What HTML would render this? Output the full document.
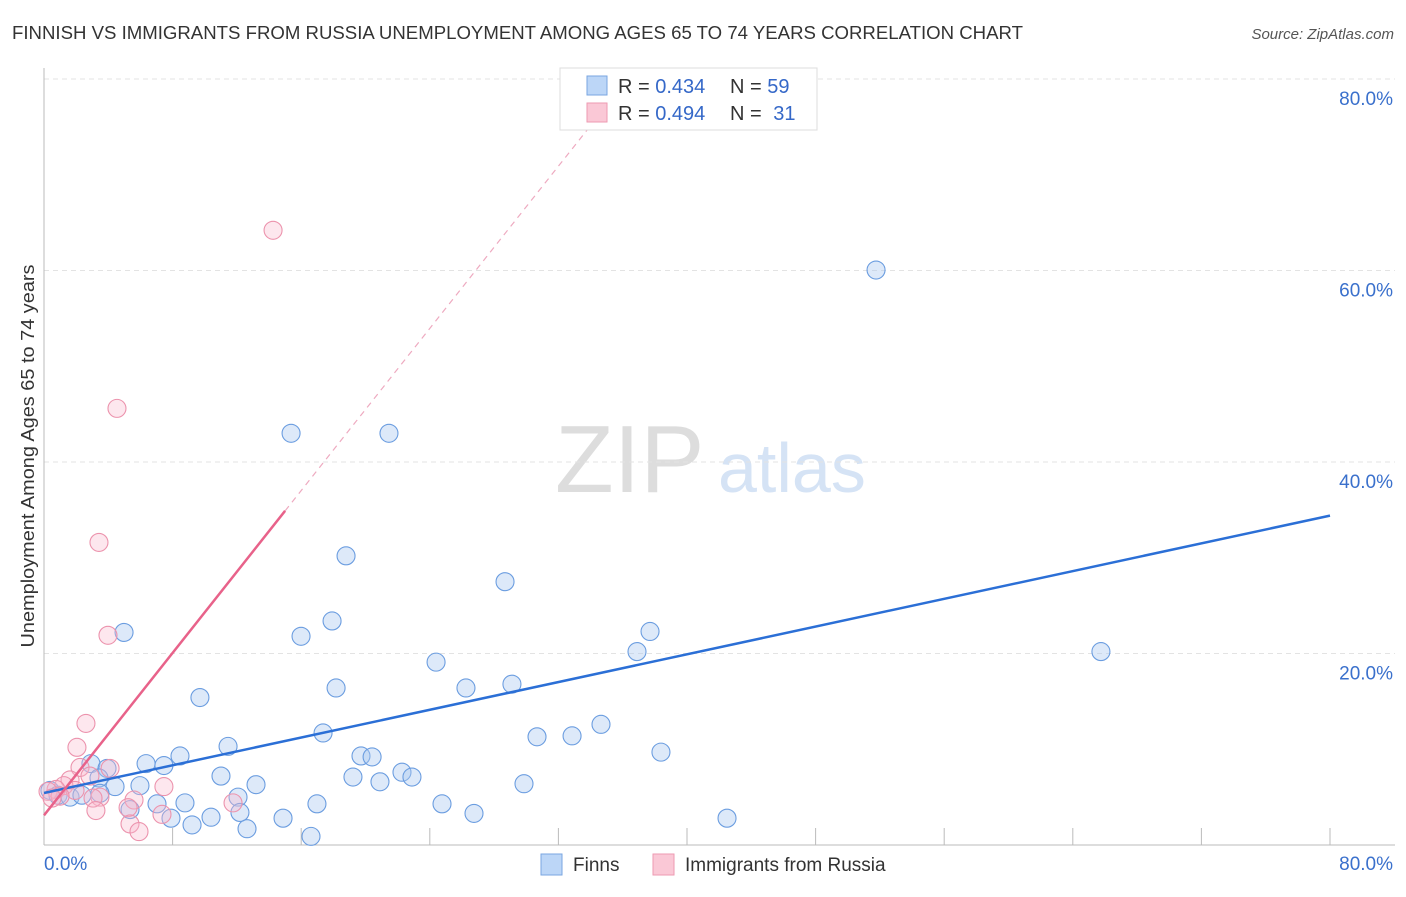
<!DOCTYPE html>
<html><head><meta charset="utf-8"><style>
body{margin:0;background:#fff;font-family:"Liberation Sans",sans-serif}
svg text{font-family:"Liberation Sans",sans-serif}
</style></head><body>
<svg id="c" width="1406" height="892">
<text x="12" y="39" font-size="18" fill="#333" textLength="1011" lengthAdjust="spacingAndGlyphs">FINNISH VS IMMIGRANTS FROM RUSSIA UNEMPLOYMENT AMONG AGES 65 TO 74 YEARS CORRELATION CHART</text>
<text x="1394" y="39" font-size="15" fill="#555" font-style="italic" text-anchor="end">Source: ZipAtlas.com</text>
<text x="555" y="492" font-size="96" fill="#ddd" font-family="Liberation Serif">ZIP</text>
<text x="718" y="492" font-size="70" fill="#d5e3f5">atlas</text>
<text transform="translate(34,456) rotate(-90)" font-size="18" fill="#333" text-anchor="middle" textLength="383" lengthAdjust="spacingAndGlyphs">Unemployment Among Ages 65 to 74 years</text>
<g id="grid"></g><g id="pts"></g><g id="lines"></g>
<g>
<rect x="560" y="68" width="257" height="62" fill="#fff" stroke="#ddd"/>
<rect x="587" y="76" width="20" height="19" fill="#bcd6f7" stroke="#7aa6e0"/>
<rect x="587" y="103" width="20" height="19" fill="#fac8d6" stroke="#ee9ab2"/>
<text x="618" y="93" font-size="20" fill="#333">R = <tspan fill="#3568c8">0.434</tspan></text>
<text x="730" y="93" font-size="20" fill="#333">N = <tspan fill="#3568c8">59</tspan></text>
<text x="618" y="120" font-size="20" fill="#333">R = <tspan fill="#3568c8">0.494</tspan></text>
<text x="730" y="120" font-size="20" fill="#333">N = <tspan fill="#3568c8" dx="6">31</tspan></text>
</g>
<g>
<rect x="541" y="854" width="21" height="21" fill="#bcd6f7" stroke="#7aa6e0"/>
<text x="573" y="871" font-size="19" fill="#333">Finns</text>
<rect x="653" y="854" width="21" height="21" fill="#fac8d6" stroke="#ee9ab2"/>
<text x="685" y="871" font-size="19" fill="#333">Immigrants from Russia</text>
</g>
</svg>
<script>
const yTicks=[20,40,60,80];
const yTickLabels=["20.0%","40.0%","60.0%","80.0%"];
const finnsX=[51.76,15.37,21.46,18.79,28.68,4.98,15.99,17.92,37.70,36.89,65.75,24.39,18.17,26.25,29.11,9.70,34.65,17.36,30.67,32.85,38.38,11.45,8.46,19.72,20.41,6.35,7.46,2.92,3.92,11.01,19.22,22.27,22.89,20.90,13.19,5.97,4.42,29.86,3.42,12.07,7.03,8.77,16.98,24.76,5.35,12.19,26.75,7.90,10.39,14.87,42.49,9.21,12.63,16.61,0.37,0.87,1.62,2.36,3.48];
const finnsY=[60.05,43.0,43.0,30.2,27.5,22.2,21.8,23.4,22.3,20.2,20.2,19.1,16.4,16.4,16.8,15.4,12.6,11.7,11.3,11.4,9.7,10.3,9.3,9.3,9.2,8.5,8.3,8.5,8.0,7.2,7.1,7.6,7.1,6.6,6.3,6.2,6.1,6.4,7.0,5.0,4.3,4.4,4.3,4.3,3.7,3.4,3.3,2.8,2.9,2.8,2.8,2.1,1.7,0.9,5.7,5.2,5.0,5.2,5.4];
const russX=[14.25,4.54,3.42,3.98,2.61,2.05,2.24,4.11,2.86,1.62,1.24,0.75,0.25,1.93,3.48,3.05,5.60,7.46,11.76,5.23,3.23,7.34,5.35,5.91,1.0,0.5];
const russY=[64.2,45.6,31.6,21.9,12.7,10.2,8.1,8.0,7.2,6.8,6.2,5.8,5.6,5.7,5.0,4.9,4.7,6.1,4.4,3.9,3.6,3.2,2.2,1.4,5.1,4.9];
const finnsLine=[[0,5.43],[80,34.4]];
const russLine=[[0,3.1],[15.0,34.9]];
const russDash=[[15.0,34.9],[34.6,76.4]];
const X=v=>44+v*1286/80, Y=v=>845-v*191.5/20;
const NS="http://www.w3.org/2000/svg";
function mk(tag,attrs,parent){const e=document.createElementNS(NS,tag);for(const k in attrs)e.setAttribute(k,attrs[k]);document.getElementById(parent).appendChild(e);return e;}
yTicks.forEach((t,i)=>{
 let l=mk('line',{x1:44,x2:1395,y1:Y(t),y2:Y(t),stroke:'#e3e3e3','stroke-dasharray':'5,4'},'grid');
 
 
 let tx=mk('text',{x:1393,y:Y(t)+26,'font-size':19,fill:'#3a70cc','text-anchor':'end'},'grid');tx.textContent=yTickLabels[i];
 
 
});
mk('line',{x1:44,x2:44,y1:68,y2:845,stroke:'#bbb'},'grid');
mk('line',{x1:44,x2:1395,y1:845,y2:845,stroke:'#bbb'},'grid');
for(let i=1;i<=10;i++){mk('line',{x1:X(i*8),x2:X(i*8),y1:828,y2:845,stroke:'#bbb'},'grid');}
let x0=mk('text',{x:44,y:870,'font-size':19,fill:'#3a70cc'},'grid');x0.textContent='0.0%';


let x1=mk('text',{x:1393,y:870,'font-size':19,fill:'#3a70cc','text-anchor':'end'},'grid');x1.textContent='80.0%';


finnsX.forEach((v,i)=>{let c=mk('circle',{cx:X(v),cy:Y(finnsY[i]),r:9,fill:'rgba(170,200,240,0.4)',stroke:'#6b9de0','stroke-width':1.1},'pts');
 
 });
russX.forEach((v,i)=>{let c=mk('circle',{cx:X(v),cy:Y(russY[i]),r:9,fill:'rgba(248,185,205,0.35)',stroke:'#ec93ad','stroke-width':1.1},'pts');
 
 });
let bl=mk('line',{x1:X(finnsLine[0][0]),y1:Y(finnsLine[0][1]),x2:X(finnsLine[1][0]),y2:Y(finnsLine[1][1]),stroke:'#2b6fd6','stroke-width':2.5},'lines');


let pl=mk('line',{x1:X(russLine[0][0]),y1:Y(russLine[0][1]),x2:X(russLine[1][0]),y2:Y(russLine[1][1]),stroke:'#e8628a','stroke-width':2.5},'lines');


let pd=mk('line',{x1:X(russDash[0][0]),y1:Y(russDash[0][1]),x2:X(russDash[1][0]),y2:Y(russDash[1][1]),stroke:'#eeaac0','stroke-width':1.2,'stroke-dasharray':'6,5'},'lines');


</script>
</body></html>
